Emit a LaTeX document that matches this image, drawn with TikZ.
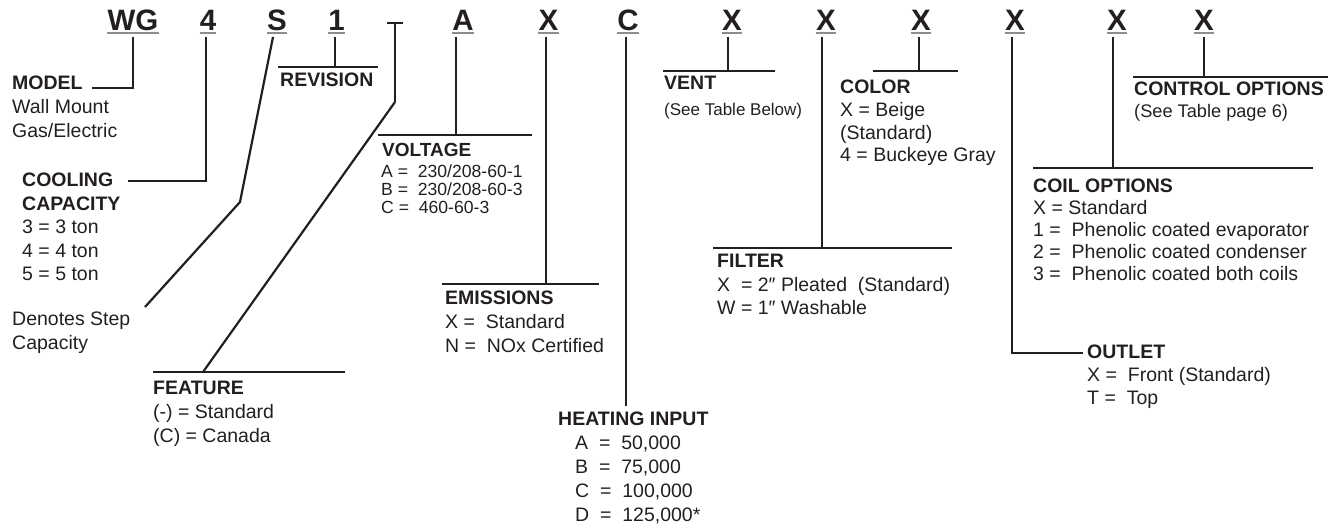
\documentclass[tikz,border=0pt]{standalone}
\usepackage{fontspec}
\setmainfont{Liberation Sans}
\definecolor{ink}{HTML}{231F20}
\definecolor{ugray}{HTML}{8C8C8C}
\begin{document}
\begin{tikzpicture}[x=1pt,y=-1pt,
  code/.style={font=\fontsize{29.5}{30}\selectfont\bfseries, text=ink, inner sep=0pt, anchor=base},
  uline/.style={draw=ugray, line width=2pt},
  lead/.style={draw=ink, line width=2.6pt},
  slant/.style={draw=ink, line width=2.2pt},
  label/.style={font=\fontsize{19.5}{24}\selectfont, text=ink, inner sep=0pt, anchor=north west, align=left},
]
\useasboundingbox (0,0) rectangle (1338,527);

% ---- code letters ----
\node[code] (cWG) at (133,31) {WG};
\node[code] (c4) at (208,31) {4};
\node[code] (cS) at (277,31) {S};
\node[code] (c1) at (336.5,31) {1};
\node[code] (cA) at (463,31) {A};
\node[code] (cX1) at (548.5,31) {X};
\node[code] (cC) at (628,31) {C};
\node[code] (cX2) at (732,31) {X};
\node[code] (cX3) at (826,31) {X};
\node[code] (cX4) at (921,31) {X};
\node[code] (cX5) at (1015,31) {X};
\node[code] (cX6) at (1117,31) {X};
\node[code] (cX7) at (1204,31) {X};
\foreach \n in {cWG,c4,cS,c1,cA,cX1,cC,cX2,cX3,cX4,cX5,cX6,cX7}
  \draw[uline] ([yshift=-2.5pt]\n.base west) -- ([yshift=-2.5pt]\n.base east);

% ---- labels ----
\node[label] (model) at (12,76) {\textbf{MODEL}\\Wall Mount\\Gas/Electric};
\node[label, font=\fontsize{19.5}{23.5}\selectfont] (cool) at (22,173) {\textbf{COOLING}\\\textbf{CAPACITY}\\3 = 3 ton\\4 = 4 ton\\5 = 5 ton};
\node[label] (step) at (12,312) {Denotes Step\\Capacity};
\node[label] (feat) at (153,381) {\textbf{FEATURE}\\(-) = Standard\\(C) = Canada};
\node[label] (rev) at (280,73) {\textbf{REVISION}};
\node[label, font=\fontsize{19}{20}\selectfont] (volt) at (382,143) {\textbf{VOLTAGE}};
\node[label, font=\fontsize{17.6}{18}\selectfont] (voltv) at (381,164.7) {A = \ 230/208-60-1\\B = \ 230/208-60-3\\C = \ 460-60-3};
\node[label] (emis) at (445,291) {\textbf{EMISSIONS}\\X = \ Standard\\N = \ NOx Certified};
\node[label] (heat) at (558,412) {\textbf{HEATING INPUT}};
\node[label] (heatv) at (575,436) {A \ = \ 50,000\\B \ = \ 75,000\\C \ = \ 100,000\\D \ = \ 125,000*};
\node[label] (vent) at (664,76) {\textbf{VENT}};
\node[label, font=\fontsize{17}{18}\selectfont] (ventv) at (664,103) {(See Table Below)};
\node[label, font=\fontsize{19.5}{22.7}\selectfont] (color) at (840,80) {\textbf{COLOR}\\X = Beige\\(Standard)\\4 = Buckeye Gray};
\node[label, font=\fontsize{19.5}{23.5}\selectfont] (filt) at (717,254) {\textbf{FILTER}\\X \ = 2″ Pleated \ (Standard)\\W = 1″ Washable};
\node[label, font=\fontsize{19.5}{23}\selectfont] (outl) at (1087,345) {\textbf{OUTLET}\\X = \ Front (Standard)\\T = \ Top};
\node[label, font=\fontsize{19.5}{22}\selectfont] (coil) at (1033,179) {\textbf{COIL OPTIONS}\\X = Standard\\1 = \ Phenolic coated evaporator\\2 = \ Phenolic coated condenser\\3 = \ Phenolic coated both coils};
\node[label] (ctrl) at (1134,82) {\textbf{CONTROL OPTIONS}};
\node[label, font=\fontsize{18.2}{19}\selectfont] (ctrlv) at (1134,104) {(See Table page 6)};

% ---- connector coordinates ----
\coordinate (tWG) at (133,37);  \coordinate (eWG) at (92,88);
\coordinate (t4) at (206,37);   \coordinate (e4) at (128,181);
\coordinate (tS) at (273,37);   \coordinate (kS) at (240,202);  \coordinate (eS) at (145,307);
\coordinate (t1) at (335,37);   \coordinate (revL) at (278,67); \coordinate (revR) at (378,67);
\coordinate (dL) at (387,23);   \coordinate (dR) at (403,23);
\coordinate (dT) at (395,23);   \coordinate (dK) at (395,102);
\coordinate (featJ) at (203,372); \coordinate (featL) at (153,372); \coordinate (featR) at (345,372);
\coordinate (tA) at (456,37);   \coordinate (voltL) at (378,135); \coordinate (voltR) at (532,135);
\coordinate (tX1) at (546,37);  \coordinate (emisL) at (442,284); \coordinate (emisR) at (599,284);
\coordinate (tC) at (626,37);   \coordinate (eC) at (626,406);
\coordinate (tX2) at (728,37);  \coordinate (ventL) at (663,71);  \coordinate (ventR) at (775,71);
\coordinate (tX3) at (822,37);  \coordinate (filtL) at (713,248); \coordinate (filtR) at (952,248);
\coordinate (tX4) at (919,37);  \coordinate (colL) at (873,71);   \coordinate (colR) at (958,71);
\coordinate (tX5) at (1012,37); \coordinate (eX5) at (1083,353);
\coordinate (tX6) at (1113,37); \coordinate (coilL) at (1033,168); \coordinate (coilR) at (1313,168);
\coordinate (tX7) at (1204,37); \coordinate (ctrlL) at (1133,77); \coordinate (ctrlR) at (1328,77);

% ---- connectors ----
\draw[lead] (tWG) |- (eWG);
\draw[lead] (t4) |- (e4);
\draw[slant] (tS) -- (kS) -- (eS);
\draw[lead] (revL) -- (revR);
\draw[lead] (t1) -- (t1 |- revL);
\draw[lead] (dL) -- (dR);
\draw[lead] (dT) -- (dK);
\draw[slant] (dK) -- (featJ);
\draw[lead] (featL) -- (featR);
\draw[lead] (voltL) -- (voltR);
\draw[lead] (tA) -- (tA |- voltL);
\draw[lead] (emisL) -- (emisR);
\draw[lead] (tX1) -- (tX1 |- emisL);
\draw[lead] (tC) -- (eC);
\draw[lead] (ventL) -- (ventR);
\draw[lead] (tX2) -- (tX2 |- ventL);
\draw[lead] (filtL) -- (filtR);
\draw[lead] (tX3) -- (tX3 |- filtL);
\draw[lead] (colL) -- (colR);
\draw[lead] (tX4) -- (tX4 |- colL);
\draw[lead] (tX5) |- (eX5);
\draw[lead] (coilL) -- (coilR);
\draw[lead] (tX6) -- (tX6 |- coilL);
\draw[lead] (ctrlL) -- (ctrlR);
\draw[lead] (tX7) -- (tX7 |- ctrlL);
\end{tikzpicture}
\end{document}
